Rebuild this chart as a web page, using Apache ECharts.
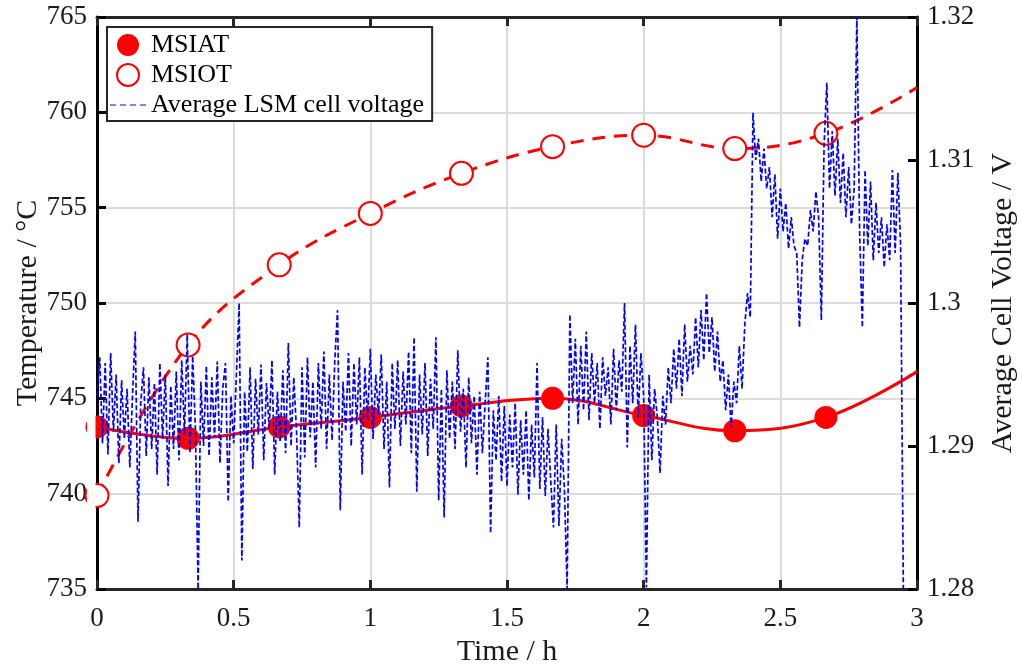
<!DOCTYPE html>
<html>
<head>
<meta charset="utf-8">
<script src="https://cdn.jsdelivr.net/npm/echarts@6/dist/echarts.min.js"></script>
<style>html,body{margin:0;padding:0;background:#fff}#c{width:1022px;height:668px}</style>
</head>
<body>
<div id="c"></div>
<script>
// ---- data ----
const xTicks = ['0', '0.5', '1', '1.5', '2', '2.5', '3'];
const sampleTimes = [0, 0.3333, 0.6667, 1, 1.3333, 1.6667, 2, 2.3333, 2.6667];
const msiatValues = [743.5, 742.9, 743.5, 744.0, 744.6, 745.0, 744.1, 743.3, 744.0];
const msiotValues = [739.9, 747.8, 752.0, 754.7, 756.8, 758.2, 758.8, 758.1, 758.9];
const lineEndTime = 3;
const msiatEnd = 746.4;
const msiotEnd = 761.3;
const voltageStartTime = 0;
const voltageStepTime = 0.01;
const voltageValues = [
1.2935,1.2962,1.2902,1.2958,1.2894,1.2965,1.2910,1.2950,1.2888,1.2946,
1.2905,1.2940,1.2885,1.2936,1.2980,1.2847,1.2930,1.2955,1.2893,1.2948,
1.2898,1.2944,1.2880,1.2958,1.2905,1.2950,1.2872,1.2942,1.2898,1.2952,
1.2890,1.2960,1.2908,1.2978,1.2895,1.2963,1.2912,1.2800,1.2945,1.2900,
1.2956,1.2893,1.2948,1.2906,1.2959,1.2888,1.2940,1.2958,1.2861,1.2935,
1.2902,1.2950,1.3000,1.2820,1.2938,1.2896,1.2955,1.2884,1.2947,1.2908,
1.2957,1.2890,1.2944,1.2912,1.2960,1.2880,1.2938,1.2903,1.2953,1.2895,
1.2972,1.2900,1.2948,1.2910,1.2843,1.2955,1.2892,1.2962,1.2906,1.2945,
1.2885,1.2958,1.2912,1.2966,1.2898,1.2950,1.2904,1.2960,1.2995,1.2855,
1.2945,1.2910,1.2965,1.2900,1.2958,1.2915,1.2962,1.2880,1.2955,1.2918,
1.2968,1.2905,1.2950,1.2922,1.2964,1.2898,1.2945,1.2871,1.2958,1.2912,
1.2960,1.2900,1.2952,1.2915,1.2966,1.2895,1.2976,1.2868,1.2950,1.2908,
1.2958,1.2893,1.2947,1.2912,1.2976,1.2862,1.2940,1.2850,1.2953,1.2905,
1.2945,1.2898,1.2967,1.2910,1.2940,1.2885,1.2948,1.2902,1.2935,1.2880,
1.2938,1.2895,1.2930,1.2962,1.2839,1.2925,1.2890,1.2935,1.2875,1.2928,
1.2872,1.2922,1.2885,1.2930,1.2866,1.2918,1.2880,1.2925,1.2862,1.2915,
1.2878,1.2958,1.2870,1.2920,1.2865,1.2912,1.2876,1.2843,1.2915,1.2844,
1.2905,1.2870,1.2800,1.2992,1.2930,1.2975,1.2915,1.2970,1.2925,1.2980,
1.2918,1.2965,1.2930,1.2958,1.2912,1.2962,1.2935,1.2955,1.2915,1.2968,
1.2925,1.2960,1.2938,1.3000,1.2899,1.2970,1.2930,1.2985,1.2920,1.2965,
1.2935,1.2801,1.2950,1.2890,1.2940,1.2920,1.2881,1.2935,1.2915,1.2955,
1.2930,1.2968,1.2940,1.2975,1.2935,1.2985,1.2945,1.2970,1.2950,1.2990,
1.2955,1.2995,1.2960,1.3007,1.2965,1.2990,1.2952,1.2980,1.2945,1.2960,
1.2925,1.2950,1.2913,1.2945,1.2930,1.2970,1.2940,1.2985,1.3007,1.2990,
1.3133,1.3100,1.3115,1.3085,1.3108,1.3080,1.3095,1.3060,1.3090,1.3045,
1.3080,1.3050,1.3070,1.3038,1.3060,1.3040,1.3035,1.2983,1.3030,1.3045,
1.3040,1.3065,1.3050,1.3078,1.3060,1.2988,1.3110,1.3154,1.3080,1.3120,
1.3075,1.3115,1.3070,1.3105,1.3060,1.3095,1.3055,1.3080,1.3200,1.3050,
1.2983,1.3093,1.3040,1.3085,1.3030,1.3070,1.3035,1.3060,1.3025,1.3055,
1.3030,1.3093,1.3035,1.3091,1.3040,1.2800
];

// ---- build series data ----
const msiatData = sampleTimes.map((t, i) => [t, msiatValues[i]]);
msiatData.push({ value: [lineEndTime, msiatEnd], symbol: 'none' });
const msiotData = sampleTimes.map((t, i) => [t, msiotValues[i]]);
msiotData.push({ value: [lineEndTime, msiotEnd], symbol: 'none' });
const voltageData = voltageValues.map((v, i) => [voltageStartTime + i * voltageStepTime, v]);

const FONT = "'Liberation Serif', 'DejaVu Serif', serif";
const TXT = '#1a1a1a';
const chart = echarts.init(document.getElementById('c'), null, { renderer: 'canvas' });
chart.setOption({
  animation: false,
  backgroundColor: '#fff',
  grid: { left: 97, right: 105, top: 17, bottom: 79, containLabel: false, outerBoundsMode: 'none' },
  // white mask between the tick labels and the left axis so markers at t = 0 look clipped
  graphic: [{ type: 'rect', left: 87, top: 400, shape: { width: 8.5, height: 115 }, style: { fill: '#fff' }, z: 5, silent: true }],
  legend: {
    left: 107, top: 27, orient: 'vertical', z: 20,
    backgroundColor: '#fff', borderColor: '#262626', borderWidth: 2,
    padding: [5, 8, 3, 3], itemGap: 4, itemWidth: 36, itemHeight: 22,
    textStyle: { fontFamily: FONT, fontSize: 26, color: '#000', lineHeight: 26 },
    data: [
      { name: 'MSIAT', icon: 'circle' },
      { name: 'MSIOT', icon: 'circle', itemStyle: { color: '#fff', borderColor: '#ff0000', borderWidth: 2 } },
      { name: 'Average LSM cell voltage', icon: 'path://M0,0h6v1h-6zM10,0h6v1h-6zM20,0h6v1h-6zM30,0h6v1h-6z' }
    ]
  },
  xAxis: [{
    type: 'value', min: 0, max: 3, interval: 0.5, position: 'bottom',
    name: 'Time / h', nameLocation: 'middle', nameGap: 48, nameMoveOverlap: false,
    nameTextStyle: { fontFamily: FONT, fontSize: 30, color: TXT },
    axisLine: { show: true, onZero: false, lineStyle: { color: '#262626', width: 3 } },
    axisTick: { show: true, inside: true, length: 9, lineStyle: { color: '#262626', width: 3 } },
    axisLabel: { fontFamily: FONT, fontSize: 27, color: TXT, margin: 16,
      formatter: v => xTicks[Math.round(v / 0.5)] },
    splitLine: { show: true, lineStyle: { color: '#dcdcdc', width: 2 } }
  }, {
    type: 'value', min: 0, max: 3, interval: 0.5, position: 'top',
    axisLine: { show: true, onZero: false, lineStyle: { color: '#262626', width: 3 } },
    axisTick: { show: true, inside: true, length: 9, lineStyle: { color: '#262626', width: 3 } },
    axisLabel: { show: false }, splitLine: { show: false }
  }],
  yAxis: [{
    type: 'value', min: 735, max: 765, interval: 5, position: 'left',
    name: 'Temperature / \u00B0C', nameLocation: 'middle', nameGap: 54, nameRotate: 90, nameMoveOverlap: false,
    nameTextStyle: { fontFamily: FONT, fontSize: 30, color: TXT },
    axisLine: { show: true, onZero: false, lineStyle: { color: '#000', width: 3 } },
    axisTick: { show: true, inside: true, length: 9, lineStyle: { color: '#000', width: 3 } },
    axisLabel: { fontFamily: FONT, fontSize: 27, color: TXT, margin: 10 },
    splitLine: { show: true, lineStyle: { color: '#dcdcdc', width: 2 } }
  }, {
    type: 'value', min: 1.28, max: 1.32, interval: 0.01, position: 'right',
    name: 'Average Cell Voltage / V', nameLocation: 'middle', nameGap: 71, nameRotate: 90, nameMoveOverlap: false,
    nameTextStyle: { fontFamily: FONT, fontSize: 30, color: TXT },
    axisLine: { show: true, onZero: false, lineStyle: { color: '#000', width: 3 } },
    axisTick: { show: true, inside: true, length: 9, lineStyle: { color: '#000', width: 3 } },
    axisLabel: { fontFamily: FONT, fontSize: 27, color: TXT, margin: 10,
      formatter: v => String(+v.toFixed(2)) },
    splitLine: { show: false }
  }],
  series: [{
    name: 'MSIAT', type: 'line', xAxisIndex: 0, yAxisIndex: 0, data: msiatData,
    smooth: 0.4, symbol: 'circle', symbolSize: 23, z: 2,
    itemStyle: { color: '#ff0000' },
    lineStyle: { color: '#ff0000', width: 3 }
  }, {
    name: 'MSIOT', type: 'line', xAxisIndex: 0, yAxisIndex: 0, data: msiotData,
    smooth: 0.4, symbol: 'circle', symbolSize: 23, z: 2,
    itemStyle: { color: '#fff', borderColor: '#ff0000', borderWidth: 2 },
    lineStyle: { color: '#ff0000', width: 3, type: [13, 9] }
  }, {
    name: 'Average LSM cell voltage', type: 'line', xAxisIndex: 0, yAxisIndex: 1, data: voltageData,
    symbol: 'none', z: 3,
    itemStyle: { color: '#0000ff' },
    lineStyle: { color: '#0000ff', width: 1.7, type: [5, 2.5] }
  }]
});
</script>
</body>
</html>
